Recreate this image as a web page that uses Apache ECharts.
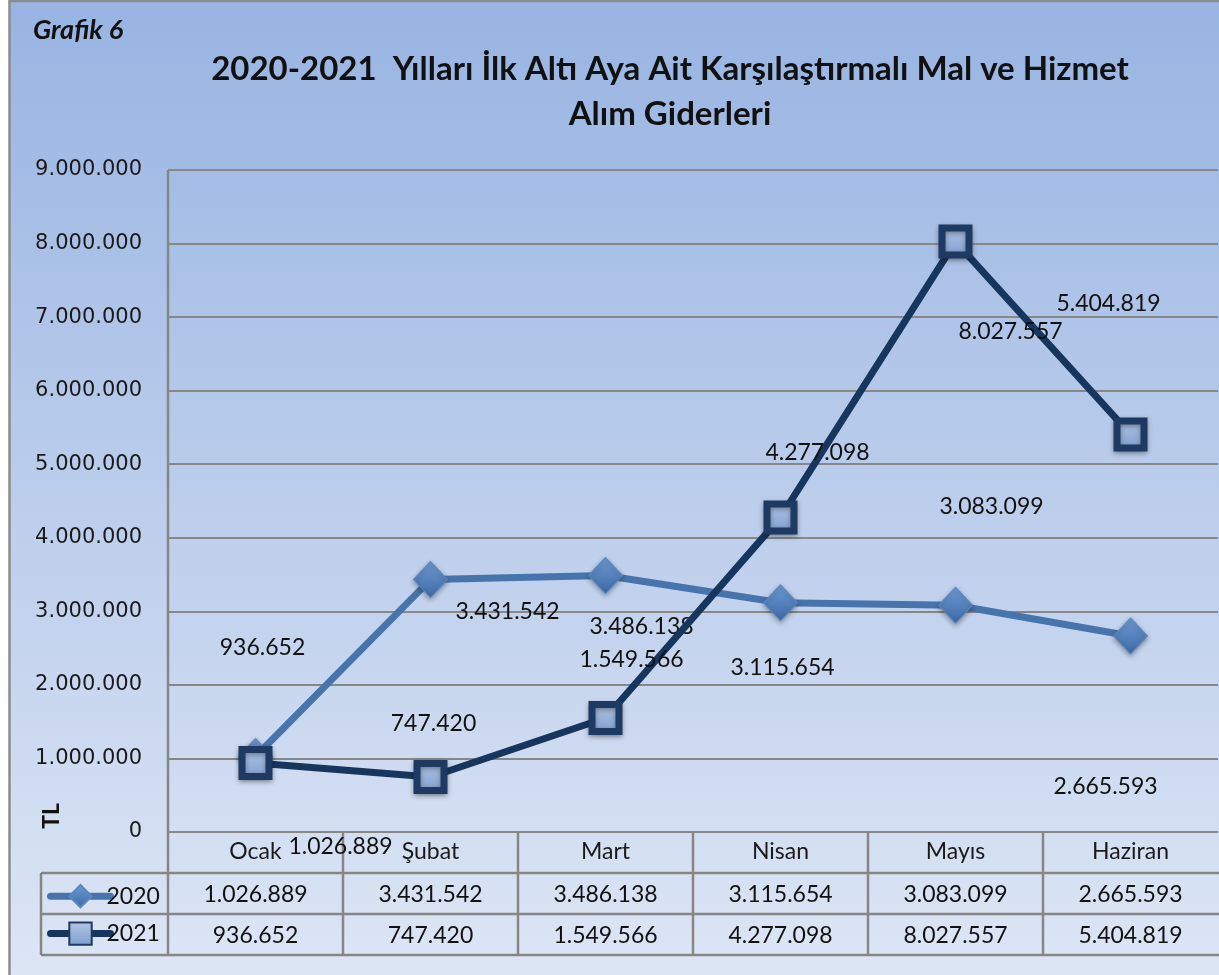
<!DOCTYPE html>
<html>
<head>
<meta charset="utf-8">
<script src="https://cdn.jsdelivr.net/npm/echarts@6/dist/echarts.min.js"></script>
<style>
  html, body { margin: 0; padding: 0; background: #fff; }
  #main { width: 1219px; height: 975px; }
</style>
</head>
<body>
<div id="main"></div>
<script>
// data
var months = ['Ocak', 'Şubat', 'Mart', 'Nisan', 'Mayıs', 'Haziran'];
var seriesNames = ['2020', '2021'];
var values2020 = [1026889, 3431542, 3486138, 3115654, 3083099, 2665593];
var values2021 = [936652, 747420, 1549566, 4277098, 8027557, 5404819];
var yTicks = [0, 1000000, 2000000, 3000000, 4000000, 5000000, 6000000, 7000000, 8000000, 9000000];

// excel left the data labels scattered, these are the shifts from each point
var offsets2020 = [[85, 90], [77, 32], [36, 51], [2, 65], [36, -99], [-25, 151]];
var offsets2021 = [[7, -116], [3, -53], [26, -58], [37, -65], [55, 90], [-22, -131]];

function fmt(v){
  return String(v).replace(/\B(?=(\d{3})+(?!\d))/g, '.');
}

var FONT = 'Lato';
var gridLeft = 168, gridTop = 170, gridBottom = 143;
var lightBlue = '#4874ad';
var navy = '#17365d';

function buildData(vals, offs){
  var out = [];
  for( var i = 0 ; i < vals.length ; i++ ){
    out.push({ value: vals[i], label: { offset: offs[i] } });
  }
  return out;
}

var chart = echarts.init(document.getElementById('main'));

var option = {
  animation: false,
  grid: { left: gridLeft, right: 1, top: gridTop, bottom: gridBottom },
  xAxis: {
    type: 'category',
    data: months,
    boundaryGap: true,
    axisLine: { show: false },
    axisTick: { show: false },
    axisLabel: { color: '#1a1a1a', fontFamily: FONT, fontSize: 23, margin: 8, verticalAlign: 'top' }
  },
  yAxis: {
    type: 'value',
    min: yTicks[0],
    max: yTicks[yTicks.length - 1],
    interval: yTicks[1] - yTicks[0],
    axisLine: { show: false },
    axisTick: { show: false },
    splitLine: { lineStyle: { color: '#878787', width: 2 } },
    axisLabel: {
      color: '#1a1a1a', fontFamily: 'DejaVu Sans', fontSize: 21, margin: 26,
      formatter: function(v){ return fmt(v); }
    }
  },
  legend: {
    orient: 'vertical',
    left: 42,
    top: 879,
    itemGap: 13,
    itemWidth: 60,
    itemHeight: 28,
    lineStyle: { width: 7, cap: 'round' },
    textStyle: { fontFamily: FONT, fontSize: 23, color: '#111', padding: [0, 0, 0, -9] },
    data: seriesNames
  },
  series: [
    {
      name: seriesNames[0],
      type: 'line',
      data: buildData(values2020, offsets2020),
      symbol: 'diamond',
      symbolSize: [34, 36],
      lineStyle: { color: lightBlue, width: 7 },
      itemStyle: {
        color: new echarts.graphic.LinearGradient(0, 0, 0, 1, [
          { offset: 0, color: '#6f9bd4' }, { offset: 1, color: '#3c6aa6' }
        ]),
        borderColor: '#5a87c2', borderWidth: 1,
        shadowColor: 'rgba(0,0,0,0.35)', shadowBlur: 5, shadowOffsetY: 2
      },
      label: {
        show: true, position: 'inside', color: '#111', fontFamily: FONT, fontSize: 23,
        formatter: function(p){ return fmt(p.value); }
      },
      z: 3
    },
    {
      name: seriesNames[1],
      type: 'line',
      data: buildData(values2021, offsets2021),
      symbol: 'rect',
      symbolSize: 27,
      lineStyle: { color: navy, width: 7 },
      itemStyle: {
        color: new echarts.graphic.LinearGradient(0, 0, 0, 1, [
          { offset: 0, color: '#b3c7e6' }, { offset: 1, color: '#7d9dcf' }
        ]),
        borderColor: '#1e3a62', borderWidth: 7,
        shadowColor: 'rgba(0,0,0,0.35)', shadowBlur: 5, shadowOffsetY: 2
      },
      label: {
        show: true, position: 'inside', color: '#111', fontFamily: FONT, fontSize: 23,
        formatter: function(p){ return fmt(p.value); }
      },
      z: 4
    }
  ]
};

chart.setOption(option);

// data table under the plot, placed from the axes
function drawTable(){
  var y0 = chart.convertToPixel({ yAxisIndex: 0 }, 0);
  var half = (chart.convertToPixel({ xAxisIndex: 0 }, 1) - chart.convertToPixel({ xAxisIndex: 0 }, 0)) / 2;
  var rowH = 41;
  var tableLeft = 41, right = 1219;
  var lineStyle = { stroke: '#868686', lineWidth: 2.5 };
  var els = [];

  // background + frame
  els.push({
    type: 'rect', z: -10, silent: true,
    shape: { x: 9.5, y: 1, width: 1230, height: 1000 },
    style: {
      fill: new echarts.graphic.LinearGradient(0, 0, 0, 1, [
        { offset: 0, color: '#98b4e2' }, { offset: 1, color: '#dfe7f5' }
      ]),
      stroke: '#8c8c8c', lineWidth: 2.5
    }
  });
  els.push({
    type: 'text', style: { x: 33, y: 30, text: 'Grafik 6', font: 'italic bold 27px ' + FONT, fill: '#111', verticalAlign: 'middle' }
  });
  els.push({
    type: 'text', style: {
      x: 670, y: 92, text: '2020-2021  Yılları İlk Altı Aya Ait Karşılaştırmalı Mal ve Hizmet\nAlım Giderleri',
      font: 'bold 33px ' + FONT, fill: '#111', align: 'center', verticalAlign: 'middle', lineHeight: 45
    }
  });
  els.push({
    type: 'text', rotation: Math.PI / 2, x: 52, y: 816,
    style: { text: 'TL', font: 'bold 23px ' + FONT, fill: '#111', align: 'center', verticalAlign: 'middle' }
  });

  // y axis line running down into the table
  els.push({ type: 'line', shape: { x1: gridLeft, y1: gridTop, x2: gridLeft, y2: y0 + rowH * 3 }, style: lineStyle });
  // horizontal rules
  els.push({ type: 'line', shape: { x1: tableLeft, y1: y0 + rowH, x2: right, y2: y0 + rowH }, style: lineStyle });
  els.push({ type: 'line', shape: { x1: tableLeft, y1: y0 + rowH * 2, x2: right, y2: y0 + rowH * 2 }, style: lineStyle });
  els.push({ type: 'line', shape: { x1: tableLeft, y1: y0 + rowH * 3, x2: right, y2: y0 + rowH * 3 }, style: lineStyle });
  els.push({ type: 'line', shape: { x1: tableLeft, y1: y0 + rowH, x2: tableLeft, y2: y0 + rowH * 3 }, style: lineStyle });

  var rows = [values2020, values2021];
  for( var i = 0 ; i < months.length ; i++ ){
    var cx = chart.convertToPixel({ xAxisIndex: 0 }, i);
    if( i < months.length - 1 ){
      els.push({ type: 'line', shape: { x1: cx + half, y1: y0, x2: cx + half, y2: y0 + rowH * 3 }, style: lineStyle });
    }
    for( var r = 0 ; r < rows.length ; r++ ){
      els.push({
        type: 'text',
        style: {
          x: cx, y: y0 + rowH * (r + 1) + rowH / 2 + 1, text: fmt(rows[r][i]),
          font: '23px ' + FONT, fill: '#111', align: 'center', verticalAlign: 'middle'
        }
      });
    }
  }
  chart.setOption({ graphic: { elements: els } });
}
drawTable();
</script>
</body>
</html>
